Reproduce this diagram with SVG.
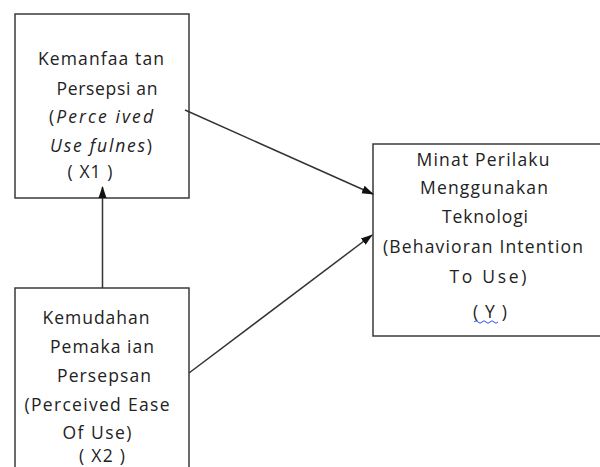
<svg xmlns="http://www.w3.org/2000/svg" width="600" height="467" viewBox="0 0 600 467">
<style>
.box{fill:#fff;stroke:#3a3a3a;stroke-width:1.5}
.t{font-family:"Open Sans","DejaVu Sans",sans-serif;font-size:17.5px;fill:#222;text-anchor:middle}
.i{font-style:italic}
.edge{stroke:#333;stroke-width:1.5;fill:none}
</style>
<defs>
<marker id="ah" markerWidth="12" markerHeight="10" refX="11" refY="5" orient="auto" markerUnits="userSpaceOnUse">
<path d="M0,1 L12,5 L0,9 Z" fill="#111"/>
</marker>
</defs>
<rect width="600" height="467" fill="#fff"/>
<g id="x1">
<rect class="box" x="15" y="14" width="174" height="184"/>
<text class="t" x="101" y="65" textLength="126" lengthAdjust="spacing">Kemanfaa tan</text>
<text class="t" x="107" y="95" textLength="101" lengthAdjust="spacing">Persepsi an</text>
<text class="t" x="101" y="123" textLength="104" lengthAdjust="spacing">(<tspan class="i">Perce ived</tspan></text>
<text class="t" x="101" y="152" textLength="102" lengthAdjust="spacing"><tspan class="i">Use fulnes</tspan>)</text>
<text class="t" x="90" y="178" textLength="45" lengthAdjust="spacing">( X1 )</text>
</g>
<g id="x2">
<rect class="box" x="15" y="288" width="174" height="200"/>
<text class="t" x="96" y="324" textLength="107" lengthAdjust="spacing">Kemudahan</text>
<text class="t" x="102" y="353" textLength="104" lengthAdjust="spacing">Pemaka ian</text>
<text class="t" x="104" y="382" textLength="94" lengthAdjust="spacing">Persepsan</text>
<text class="t" x="97" y="411" textLength="145" lengthAdjust="spacing">(Perceived Ease</text>
<text class="t" x="97" y="439" textLength="69" lengthAdjust="spacing">Of Use)</text>
<text class="t" x="102" y="462" textLength="46" lengthAdjust="spacing">( X2 )</text>
</g>
<g id="y">
<rect class="box" x="373" y="144" width="240" height="192"/>
<text class="t" x="483" y="166" textLength="133" lengthAdjust="spacing">Minat Perilaku</text>
<text class="t" x="484" y="194" textLength="128" lengthAdjust="spacing">Menggunakan</text>
<text class="t" x="485" y="223" textLength="86" lengthAdjust="spacing">Teknologi</text>
<text class="t" x="483" y="253" textLength="200" lengthAdjust="spacing">(Behavioran Intention</text>
<text class="t" x="488" y="283" textLength="77" lengthAdjust="spacing">To  Use)</text>
<text class="t" x="490" y="318" textLength="34" lengthAdjust="spacing">( Y )</text>
<path d="M474,322 q2,-2.5 4,0 t4,0 t4,0 t4,0 t4,0 t4,0" fill="none" stroke="#3050e0" stroke-width="1"/>
</g>
<g id="connectors">
<line class="edge" x1="185" y1="110" x2="373" y2="194" marker-end="url(#ah)"/>
<line class="edge" x1="189" y1="373" x2="372" y2="235" marker-end="url(#ah)"/>
<line class="edge" x1="102.5" y1="288" x2="102.5" y2="187" marker-end="url(#ah)"/>
</g>
</svg>
